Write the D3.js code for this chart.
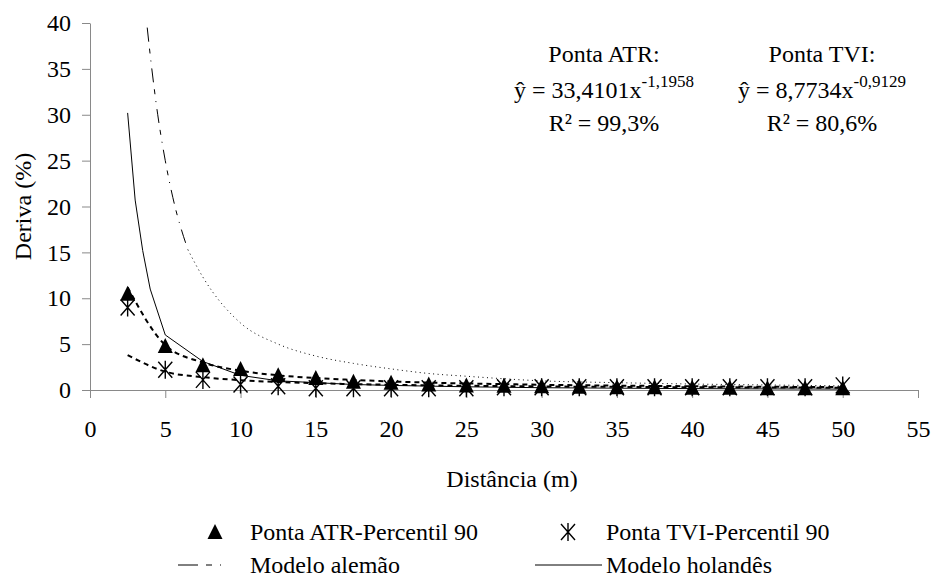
<!DOCTYPE html>
<html>
<head>
<meta charset="utf-8">
<script src="https://cdn.jsdelivr.net/npm/d3@7"></script>
<style>
  body { margin: 0; background: #fff; }
  svg text { font-family: "Liberation Serif", "Times New Roman", Times, "DejaVu Serif", serif; fill: #000; }
</style>
</head>
<body>
<svg id="chart" width="932" height="579"></svg>
<script>
// ---------------------------  DATA  ---------------------------
// distances where drift was sampled (m)
const distances = [2.5, 5, 7.5, 10, 12.5, 15, 17.5, 20, 22.5, 25, 27.5, 30, 32.5, 35, 37.5, 40, 42.5, 45, 47.5, 50];

// measured drift, 90th percentile (%)
const atr_p90 = [10.5, 4.8, 2.7, 2.3, 1.6, 1.3, 0.9, 0.8, 0.6, 0.5, 0.45, 0.4, 0.35, 0.3, 0.3, 0.25, 0.25, 0.2, 0.2, 0.2];
const tvi_p90 = [9.0, 2.2, 1.1, 0.6, 0.4, 0.2, 0.2, 0.2, 0.2, 0.2, 0.3, 0.3, 0.3, 0.3, 0.3, 0.3, 0.3, 0.3, 0.3, 0.5];

// fitted power curves at the same distances
const atr_fit = [11.2, 4.9, 3.0, 2.1, 1.6, 1.3, 1.1, 0.93, 0.81, 0.71, 0.64, 0.57, 0.52, 0.48, 0.44, 0.41, 0.38, 0.35, 0.33, 0.31];
const tvi_fit = [3.8, 2.0, 1.4, 1.07, 0.87, 0.74, 0.64, 0.57, 0.51, 0.46, 0.42, 0.39, 0.36, 0.34, 0.32, 0.30, 0.29, 0.27, 0.26, 0.25];

// reference models
const german_x = [3.8, 4, 4.5, 5, 5.5, 6.5, 7.5, 10, 12.5, 15, 17.5, 20, 22.5, 25, 30, 35, 40, 45, 50];
const german_y = [39.5, 36.5, 30, 25, 21, 15.3, 12.3, 7.3, 5.0, 3.7, 2.9, 2.3, 1.8, 1.5, 1.0, 0.8, 0.65, 0.55, 0.45];
const dutch_x = [2.5, 3, 3.5, 4, 5, 7.5, 10, 12.5, 15, 17.5, 20, 25, 30, 35, 40, 45, 50];
const dutch_y = [30.2, 20.7, 15.2, 11.0, 6.0, 3.1, 1.6, 1.0, 0.8, 0.6, 0.5, 0.35, 0.25, 0.2, 0.15, 0.12, 0.1];

const x_ticks = [0, 5, 10, 15, 20, 25, 30, 35, 40, 45, 50, 55];
const y_ticks = [0, 5, 10, 15, 20, 25, 30, 35, 40];

const legend_labels = ["Ponta ATR-Percentil 90", "Ponta TVI-Percentil 90", "Modelo alemão", "Modelo holandês"];

// ---------------------------  LAYOUT  ---------------------------
const margins = { left: 90, top: 23, right: 14, bottom: 189 };
const outer_width = 932, outer_height = 579;
const width = outer_width - margins.left - margins.right;
const height = outer_height - margins.top - margins.bottom;
const axis_color = "#898989";

const svg = d3.select("#chart");
const chart = svg.append("g")
    .attr("transform", `translate(${margins.left},${margins.top})`);

// Build the scales
const x_scale = d3.scaleLinear().domain([0, 55]).range([0, width]);
const y_scale = d3.scaleLinear().domain([0, 40]).range([height, 0]);

// Build the X axis
const x_axis = chart.append("g")
    .attr("transform", `translate(0,${height})`)
    .call(d3.axisBottom(x_scale).tickValues(x_ticks).tickSize(8).tickSizeOuter(0).tickPadding(22));

// Build the Y axis
const y_axis = chart.append("g")
    .call(d3.axisLeft(y_scale).tickValues(y_ticks).tickSize(8).tickSizeOuter(0).tickPadding(11));

[x_axis, y_axis].forEach(function(ax) {
    ax.attr("font-family", null).attr("font-size", 24);
    ax.selectAll("path, line").attr("stroke", axis_color);
});

// Axis titles
svg.append("text")
    .attr("x", margins.left + x_scale(27.5) + 8)
    .attr("y", 487)
    .attr("text-anchor", "middle")
    .attr("font-size", 24)
    .text("Distância (m)");

svg.append("text")
    .attr("transform", `translate(31,${margins.top + height / 2}) rotate(-90)`)
    .attr("text-anchor", "middle")
    .attr("font-size", 24)
    .text("Deriva (%)");

// ---------------------------  LINES  ---------------------------
const line_gen = d3.line()
    .x(d => x_scale(d[0]))
    .y(d => y_scale(d[1]))
    .curve(d3.curveMonotoneX);

const german_pts = d3.zip(german_x, german_y);
const dutch_pts = d3.zip(dutch_x, dutch_y);

// German model: dashed where steep, dotted once it flattens
chart.append("path")
    .datum(german_pts.filter(d => d[0] <= 6.5))
    .attr("d", line_gen)
    .attr("fill", "none").attr("stroke", "#000").attr("stroke-width", 1)
    .attr("stroke-dasharray", "14,7,5,7,1,7");
chart.append("path")
    .datum(german_pts.filter(d => d[0] >= 6.5))
    .attr("d", line_gen)
    .attr("fill", "none").attr("stroke", "#000").attr("stroke-width", 1)
    .attr("stroke-dasharray", "1,3.5");

// Dutch model: solid
chart.append("path")
    .datum(dutch_pts)
    .attr("d", line_gen.curve(d3.curveLinear))
    .attr("fill", "none").attr("stroke", "#000").attr("stroke-width", 1);

// Fitted curves: thick short dashes
[atr_fit, tvi_fit].forEach(function(fit) {
    chart.append("path")
        .datum(d3.zip(distances, fit))
        .attr("d", line_gen.curve(d3.curveMonotoneX))
        .attr("fill", "none").attr("stroke", "#000").attr("stroke-width", 2)
        .attr("stroke-dasharray", "5,4");
});

// ---------------------------  MARKERS  ---------------------------
const triangle_path = "M0,-8L7.5,7L-7.5,7Z";
const star_path = "M0,-9L0,9M-7,-8L7,8M-7,8L7,-8";

chart.selectAll(".tri")
    .data(d3.zip(distances, atr_p90))
    .join("path")
    .attr("class", "tri")
    .attr("transform", d => `translate(${x_scale(d[0])},${y_scale(d[1])})`)
    .attr("d", triangle_path)
    .attr("fill", "#000");

chart.selectAll(".star")
    .data(d3.zip(distances, tvi_p90))
    .join("path")
    .attr("class", "star")
    .attr("transform", d => `translate(${x_scale(d[0])},${y_scale(d[1])})`)
    .attr("d", star_path)
    .attr("fill", "none").attr("stroke", "#000").attr("stroke-width", 1.4);

// ---------------------------  EQUATIONS  ---------------------------
const equations = [
    { cx: 604, title: "Ponta ATR:", coef: "ŷ = 33,4101x", expo: "-1,1958", r2: "R² = 99,3%" },
    { cx: 822, title: "Ponta TVI:", coef: "ŷ = 8,7734x", expo: "-0,9129", r2: "R² = 80,6%" }
];
equations.forEach(function(eq) {
    svg.append("text").attr("x", eq.cx).attr("y", 62).attr("text-anchor", "middle")
        .attr("font-size", 24).text(eq.title);
    const t = svg.append("text").attr("x", eq.cx).attr("y", 98).attr("text-anchor", "middle")
        .attr("font-size", 24);
    t.append("tspan").text(eq.coef);
    t.append("tspan").attr("dy", -11).attr("font-size", 17).text(eq.expo);
    svg.append("text").attr("x", eq.cx).attr("y", 131).attr("text-anchor", "middle")
        .attr("font-size", 24).text(eq.r2);
});

// ---------------------------  LEGEND  ---------------------------
const legend = svg.append("g").attr("font-size", 24);
const row1 = 540, row2 = 573;

legend.append("path").attr("d", triangle_path)
    .attr("transform", `translate(215,${row1 - 8})`).attr("fill", "#000");
legend.append("text").attr("x", 250).attr("y", row1).text(legend_labels[0]);

legend.append("path").attr("d", star_path)
    .attr("transform", `translate(568,${row1 - 8})`)
    .attr("fill", "none").attr("stroke", "#000").attr("stroke-width", 1.4);
legend.append("text").attr("x", 606).attr("y", row1).text(legend_labels[1]);

legend.append("line").attr("x1", 178).attr("x2", 244).attr("y1", row2 - 8).attr("y2", row2 - 8)
    .attr("stroke", "#000").attr("stroke-dasharray", "20,8,6,8,1,30");
legend.append("text").attr("x", 250).attr("y", row2).text(legend_labels[2]);

legend.append("line").attr("x1", 535).attr("x2", 602).attr("y1", row2 - 8).attr("y2", row2 - 8)
    .attr("stroke", "#000");
legend.append("text").attr("x", 606).attr("y", row2).text(legend_labels[3]);
</script>
</body>
</html>
